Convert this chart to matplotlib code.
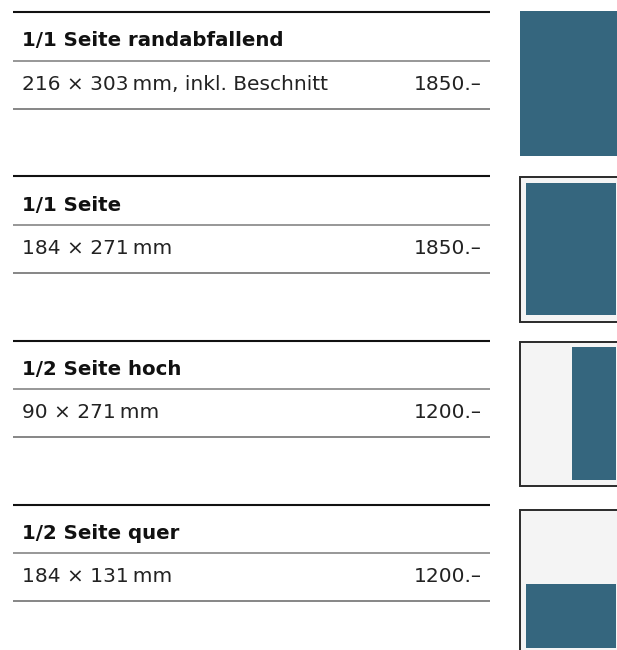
import matplotlib.pyplot as plt
from matplotlib.patches import Rectangle

# Anzeigenformate
titel = ['1/1 Seite randabfallend', '1/1 Seite', '1/2 Seite hoch', '1/2 Seite quer']
masse = ['216 × 303\u2009mm, inkl. Beschnitt', '184 × 271\u2009mm', '90 × 271\u2009mm', '184 × 131\u2009mm']
preise = ['1850.–', '1850.–', '1200.–', '1200.–']

# Anzeigenfläche in mm (Breite, Höhe) und Lage auf der Seite
breite_mm = [216, 184, 90, 184]
hoehe_mm = [303, 271, 271, 131]
ausrichtung = ['beschnitt', 'voll', 'rechts', 'unten']

seite_mm = (210, 297)
rand_mm = (12, 12, 14, 14)  # links, oben, rechts, unten

blau = '#35667e'
hellgrau = '#f4f4f4'

fig = plt.figure(figsize=(6.17, 6.5), dpi=100)
ax = fig.add_axes([0, 0, 1, 1])
ax.set_xlim(0, 617)
ax.set_ylim(650, 0)
ax.axis('off')

schrift = ['DejaVu Sans']
abstand = 164.3
skala = 0.4875  # px pro mm
x_seite = 520

for i in range(len(titel)):
    top = 12 + i * abstand

    # Tabelle links
    ax.plot([13, 490], [top, top], color='#111111', lw=1.5, solid_capstyle='butt')
    ax.plot([13, 490], [top + 48.5, top + 48.5], color='#7a7a7a', lw=1.1, solid_capstyle='butt')
    ax.plot([13, 490], [top + 96.5, top + 96.5], color='#666666', lw=1.1, solid_capstyle='butt')
    ax.text(22, top + 34.5, titel[i], fontsize=14.2, fontweight='bold', family=schrift,
            va='baseline', ha='left', color='#111111')
    ax.text(22, top + 77.5, masse[i], fontsize=14.5, family=schrift,
            va='baseline', ha='left', color='#222222')
    ax.text(482, top + 77.5, preise[i], fontsize=14.5, family=schrift,
            va='baseline', ha='right', color='#222222')

    # Vorschau rechts
    w = breite_mm[i] * skala
    h = hoehe_mm[i] * skala
    if ausrichtung[i] == 'beschnitt':
        ax.add_patch(Rectangle((x_seite, top - 1), w, h - 3, facecolor=blau, edgecolor='none'))
        continue

    y_seite = top + 1 + (i == 3) * 4
    ax.add_patch(Rectangle((x_seite, y_seite), seite_mm[0] * skala, seite_mm[1] * skala,
                           facecolor=hellgrau, edgecolor='#2a2a2a', lw=1.4))
    if ausrichtung[i] == 'voll':
        x = x_seite + rand_mm[0] * skala
        y = y_seite + rand_mm[1] * skala
    elif ausrichtung[i] == 'rechts':
        x = x_seite + (seite_mm[0] - rand_mm[2] - breite_mm[i]) * skala
        y = y_seite + rand_mm[1] * skala
    else:
        x = x_seite + rand_mm[0] * skala
        y = y_seite + (seite_mm[1] - rand_mm[3] - hoehe_mm[i]) * skala
    ax.add_patch(Rectangle((x, y), w, h, facecolor=blau, edgecolor='none'))

fig.savefig('out.png', dpi=100)
